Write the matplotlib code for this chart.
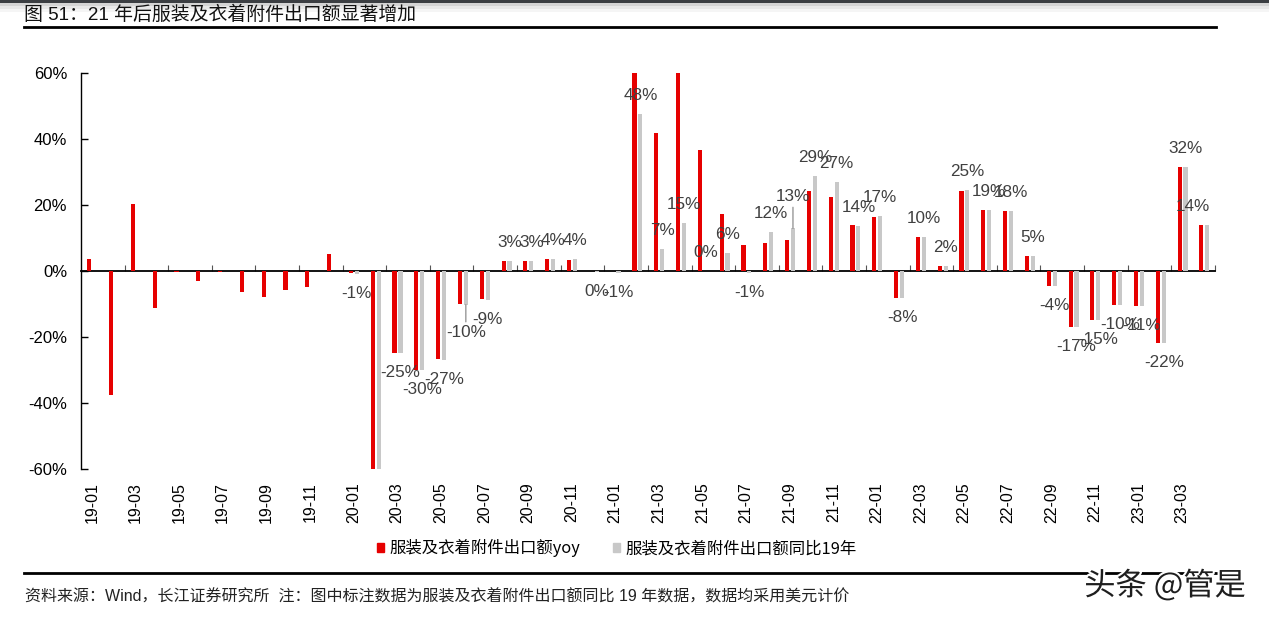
import numpy as np
import matplotlib
matplotlib.use('Agg')
import matplotlib.pyplot as plt
from matplotlib.patches import Patch, Rectangle
from matplotlib.lines import Line2D
import matplotlib.patheffects as pe

plt.rcParams['font.family'] = ['Liberation Sans', 'Noto Sans CJK SC']
plt.rcParams['axes.unicode_minus'] = False

#month labels
months = ['19-01', '19-02', '19-03', '19-04', '19-05', '19-06', '19-07', '19-08', '19-09', '19-10', '19-11', '19-12',
          '20-01', '20-02', '20-03', '20-04', '20-05', '20-06', '20-07', '20-08', '20-09', '20-10', '20-11', '20-12',
          '21-01', '21-02', '21-03', '21-04', '21-05', '21-06', '21-07', '21-08', '21-09', '21-10', '21-11', '21-12',
          '22-01', '22-02', '22-03', '22-04', '22-05', '22-06', '22-07', '22-08', '22-09', '22-10', '22-11', '22-12',
          '23-01', '23-02', '23-03', '23-04']

#服装及衣着附件出口额yoy (%)
yoy = [3.7, -37.6, 20.2, -11.3, -0.2, -2.9, -0.2, -6.5, -7.8, -5.9, -4.7, 5.2,
       -0.7, -65.0, -24.7, -30.0, -26.8, -10.1, -8.6, 3.0, 3.0, 3.6, 3.3, 0.0,
       np.nan, 75.0, 41.8, 70.0, 36.7, 17.3, 7.9, 8.5, 9.4, 24.2, 22.4, 14.0,
       16.5, -8.1, 10.3, 1.6, 24.2, 18.6, 18.1, 4.5, -4.5, -16.9, -14.7, -10.3,
       -10.6, -21.7, 31.5, 13.8]

#服装及衣着附件出口额同比19年 (%), no data for 2019
vs19 = [np.nan] * 12 + [
        -0.8, -62.0, -24.8, -30.1, -26.9, -10.2, -8.7, 3.0, 3.0, 3.6, 3.6, -0.2,
        -0.6, 47.6, 6.6, 14.6, 0.1, 5.6, -0.6, 11.8, 12.9, 28.8, 27.0, 13.7,
        16.6, -8.1, 10.3, 1.6, 24.6, 18.6, 18.1, 4.6, -4.4, -16.9, -14.7, -10.3,
        -10.6, -21.7, 31.6, 13.8]

red = '#E60000'
grey = '#C8C8C8'
label_color = '#404040'

fig = plt.figure(figsize=(12.69, 6.21), dpi=100)
ax = fig.add_axes([0.0638, 0.2448, 0.8936, 0.6376])

x = np.arange(len(months))
w = 0.19
ax.bar(x - 0.12, yoy, width=w, color=red, label='服装及衣着附件出口额yoy')
ax.bar(x + 0.15, vs19, width=w, color=grey, label='服装及衣着附件出口额同比19年')

ax.set_xlim(-0.5, len(months) - 0.5)
ax.set_ylim(-60, 60)
ax.set_yticks(np.arange(-60, 61, 20))
ax.set_yticklabels([f'{v}%' for v in range(-60, 61, 20)])
ax.tick_params(axis='y', direction='in', length=5, width=1, pad=10, labelsize=12)
ax.set_xticks(x[::2])
ax.set_xticklabels(months[::2], rotation=90)
ax.tick_params(axis='x', length=0, pad=9.5, labelsize=11.5)
for s in ['top', 'right', 'bottom']:
    ax.spines[s].set_visible(False)
ax.spines['left'].set_linewidth(1)

#zero line with small ticks between every two months
ymin, ymax = ax.get_ylim()
zero = ax.secondary_xaxis((0 - ymin) / (ymax - ymin))
zero.set_xticks(np.arange(1.5, len(months), 2))
zero.tick_params(axis='x', direction='out', length=4, color='#555555', labeltop=False, labelbottom=False)
zero.spines['top'].set_linewidth(1.3)

#data labels for the 19-based series
nudge = {'20-06': (0, -8), '21-09': (0, 13), '23-04': (-14, 0)}
for i, v in enumerate(vs19):
    if np.isnan(v) or abs(v) > 60:
        continue
    dx, dy = nudge.get(months[i], (0, 0))
    if v >= 0:
        off, va = 11 + dy, 'bottom'
    else:
        off, va = -12 + dy, 'top'
    arrow = None
    if dy != 0:
        arrow = dict(arrowstyle='-', color='#7f7f7f', lw=0.8, shrinkA=0, shrinkB=0)
    ax.annotate(f'{round(v)}%', xy=(x[i] + 0.15, v), xytext=(dx, off), textcoords='offset pixels',
                ha='center', va=va, fontsize=12.3, color=label_color, arrowprops=arrow)

#legend
handles = [Patch(color=red), Patch(color=grey)]
labels = ['服装及衣着附件出口额yoy', '服装及衣着附件出口额同比19年']
fig.legend(handles, labels, loc='center', bbox_to_anchor=(0.486, 0.117), ncol=2, frameon=False,
           handlelength=0.45, handleheight=0.45, handletextpad=0.3, columnspacing=2.0,
           prop={'family': 'Noto Sans CJK SC', 'size': 11.8})

#title, rules and footnote
fig.add_artist(Rectangle((0, 1 - 3 / 621), 1, 3 / 621, transform=fig.transFigure, color='#3b3e42', lw=0))
for k, c in enumerate(['#d4d4d4', '#e8e8e8', '#f5f5f5']):
    fig.add_artist(Rectangle((0, 1 - (6 + 3 * k) / 621), 1, 3 / 621, transform=fig.transFigure, color=c, lw=0))
fig.text(24 / 1269, 1 - 15 / 621, '图 51：21 年后服装及衣着附件出口额显著增加', fontsize=13.6,
         va='center', ha='left', color='#111111')
fig.add_artist(Line2D([24 / 1269, 1216 / 1269], [1 - 26.7 / 621] * 2, color='black', lw=2))
fig.add_artist(Line2D([24 / 1269, 1216 / 1269], [1 - 573 / 621] * 2, color='black', lw=2))
fig.text(25 / 1269, 1 - 597 / 621,
         '资料来源：Wind，长江证券研究所  注：图中标注数据为服装及衣着附件出口额同比 19 年数据，数据均采用美元计价',
         fontsize=11.5, va='center', ha='left', color='#222222')
fig.text(1165 / 1269, 1 - 586 / 621, '头条 @管是', fontsize=22.5, ha='center', va='center',
         family=['Noto Sans CJK SC'], color='#1e1e1e',
         path_effects=[pe.withStroke(linewidth=3, foreground='white')])

fig.savefig('out.png', dpi=100)
